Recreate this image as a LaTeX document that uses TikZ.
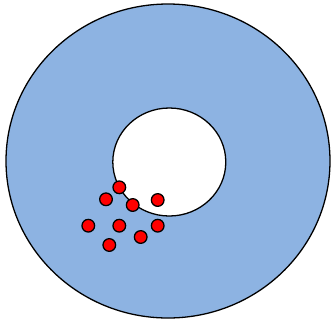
\documentclass[tikz,border=0pt]{standalone}
\usetikzlibrary{positioning}
\definecolor{RingBlue}{HTML}{8db3e2}
\definecolor{DotRed}{HTML}{ff0000}
\definecolor{Ink}{HTML}{000000}
\tikzset{
  particle/.style={circle, draw=Ink, fill=DotRed, line width=1.1pt, minimum size=0.38cm, inner sep=0pt}
}

\begin{document}
\begin{tikzpicture}[x=0.03cm, y=-0.03cm]
    \useasboundingbox (0, 0) rectangle (331, 323);

    % Ring
    \draw[fill=RingBlue, draw=Ink, line width=1.1pt] (168, 161) ellipse [x radius=162, y radius=157];
    \draw[fill=white, draw=Ink, line width=1.1pt] (169.3, 162) ellipse [x radius=56.5, y radius=54];

    % Particles
    \foreach \n/\px/\py in {1/119.3/187.3, 2/106/199.3, 3/132.7/205, 4/157.7/200, 5/88.3/225.7,
                           6/119.3/225.7, 7/157.7/225.7, 8/140.7/237, 9/109.3/245} {
        \node[particle] (d\n) at (\px, \py) {};
    }
\end{tikzpicture}
\end{document}
